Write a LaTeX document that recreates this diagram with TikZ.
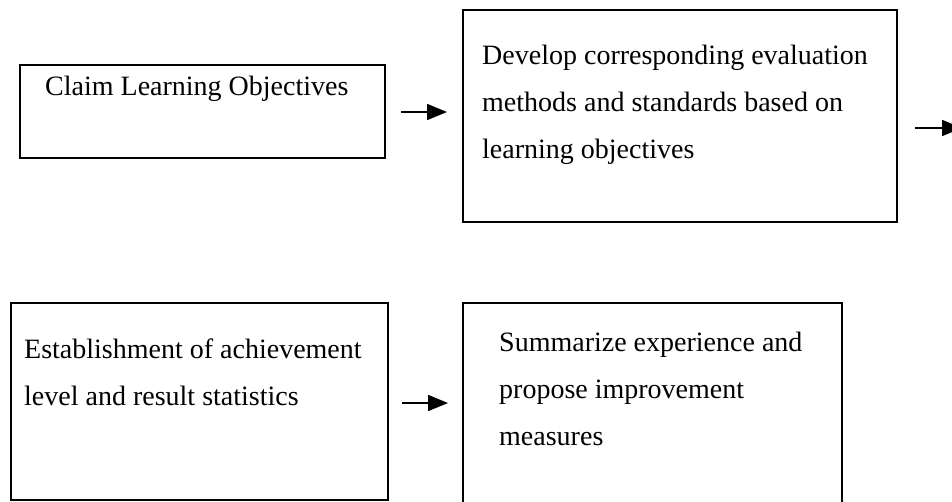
\documentclass[tikz,border=0pt]{standalone}
\usepackage{fontspec}
\setmainfont{Liberation Serif}
\usetikzlibrary{arrows.meta}
\begin{document}
\begin{tikzpicture}[x=1pt,y=-1pt,
  box/.style={draw=black,line width=1.5pt,rectangle,inner sep=0pt,anchor=north west},
  txt/.style={inner sep=0pt,anchor=base west,align=left,font=\fontsize{28}{47}\selectfont},
  arr/.style={line width=1.7pt,-{Triangle[length=20pt,width=16pt]}}]
\useasboundingbox (0,0) rectangle (952,501);
\clip (0,0) rectangle (952,501);
\node[box,minimum width=365pt,minimum height=93pt] (b1) at (19,64) {};
\node[box,minimum width=434pt,minimum height=212pt] (b2) at (462,9) {};
\node[box,minimum width=377pt,minimum height=197pt] (b3) at (10,302) {};
\node[box,minimum width=379pt,minimum height=230pt] (b4) at (462,302) {};
\node[txt] (t1) at (45,95) {Claim Learning Objectives};
\node[txt] (t2) at (482,158) {Develop corresponding evaluation\\methods and standards based on\\learning objectives};
\node[txt] (t3) at (24,405) {Establishment of achievement\\level and result statistics};
\node[txt] (t4) at (499,445) {Summarize experience and\\propose improvement\\measures};
\coordinate (e2) at (962,128);
\draw[arr] ([xshift=15pt]b1.east |- 0,112) -- ([xshift=-15pt]b2.west |- 0,112);
\draw[arr] ([xshift=17pt]b2.east |- e2) -- (e2);
\draw[arr] ([xshift=13pt]b3.east |- 0,403) -- ([xshift=-14pt]b4.west |- 0,403);
\end{tikzpicture}
\end{document}
